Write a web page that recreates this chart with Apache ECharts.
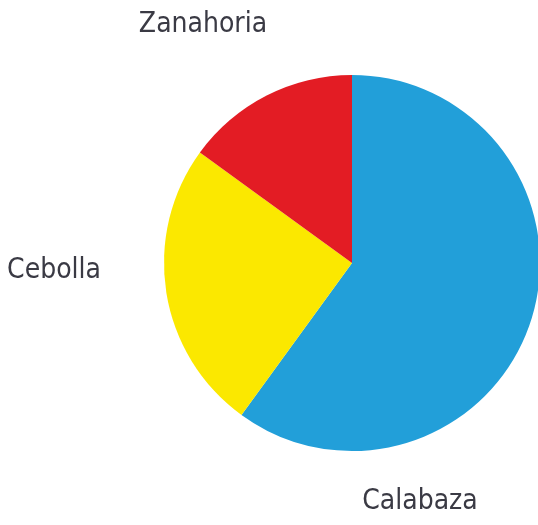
<!DOCTYPE html>
<html>
<head>
<meta charset="utf-8">
<script src="https://cdn.jsdelivr.net/npm/echarts@6/dist/echarts.min.js"></script>
<style>
	html, body { margin: 0; padding: 0; background: #fff; }
	#chart { width: 538px; height: 525px; }
</style>
</head>
<body>
<div id="chart"></div>
<script>
var labels = ['Calabaza', 'Cebolla', 'Zanahoria'];
var values = [60, 25, 15];
var colors = ['#229fd9', '#fbe800', '#e31c24'];

// label anchor points (pixels), same order as labels
var labelPos = [[420, 502], [54, 271], [203, 25]];

function renderChart() {
	var data = labels.map(function(name, i) {
		return { name: name, value: values[i], itemStyle: { color: colors[i] } };
	});
	var option = {
		animation: false,
		series: [{
			type: 'pie',
			center: [352, 263],
			radius: [0, 188],
			startAngle: 90,
			clockwise: true,
			avoidLabelOverlap: false,
			data: data,
			label: {
				show: true,
				position: 'outside',
				color: '#3a3a44',
				fontFamily: 'Liberation Sans Narrow, DejaVu Sans Condensed, sans-serif',
				fontSize: 28,
				overflow: 'none',
				formatter: '{b}'
			},
			labelLine: { show: false },
			labelLayout: function(params) {
				var p = labelPos[params.dataIndex];
				return { x: p[0], y: p[1], align: 'center', verticalAlign: 'middle', hideOverlap: false };
			},
			emphasis: { disabled: true }
		}]
	};
	var chart = echarts.init(document.getElementById('chart'));
	chart.setOption(option);
}

renderChart();
</script>
</body>
</html>
